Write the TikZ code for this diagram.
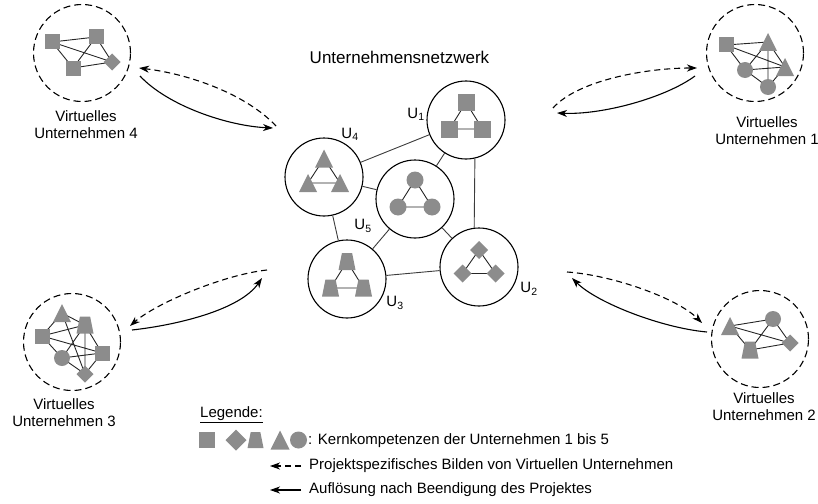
\documentclass[tikz,border=0pt]{standalone}
\usepackage{fontspec}
\setmainfont{Liberation Sans}
\usetikzlibrary{arrows.meta,calc}
\definecolor{shapegray}{RGB}{140,140,140}
\definecolor{netgray}{RGB}{60,60,60}
\tikzset{
  pics/gsq/.style={code={\fill[shapegray] (-#1/2,-#1/2) rectangle (#1/2,#1/2);}},
  pics/gdia/.style={code={\fill[shapegray] (0,-#1/2) -- (#1/2,0) -- (0,#1/2) -- (-#1/2,0) -- cycle;}},
  pics/gtri/.style={code={\fill[shapegray] (0,-#1/2) -- (#1/2,#1/2) -- (-#1/2,#1/2) -- cycle;}},
  pics/gtrap/.style={code={\fill[shapegray] (-0.3*#1,-#1/2) -- (0.3*#1,-#1/2) -- (#1/2,#1/2) -- (-#1/2,#1/2) -- cycle;}},
  pics/gcirc/.style={code={\fill[shapegray] (0,0) circle[radius=#1/2];}},
}
\begin{document}
\begin{tikzpicture}[x=1pt,y=-1pt,
  lbl/.style={font=\fontsize{15}{17}\selectfont, align=center, inner sep=0},
  bigc/.style={circle, draw=black, line width=1.1pt, minimum size=78pt, inner sep=0},
  vuc/.style={circle, draw=black, line width=1.1pt, dash pattern=on 7pt off 4pt, minimum size=97pt, inner sep=0},
  netline/.style={draw=netgray, line width=0.9pt},
  inline/.style={draw=black!85, line width=0.9pt},
  formarrow/.style={line width=1.1pt, dash pattern=on 6pt off 4pt, -{Stealth[length=10pt,width=7pt,inset=3pt]}},
  dissarrow/.style={line width=1.1pt, -{Stealth[length=10pt,width=7pt,inset=3pt]}},
]
\useasboundingbox (0,0) rectangle (818,503);

% ---------- title ----------
\node[lbl, font=\fontsize{17}{20}\selectfont] (title) at (399.5,57) {Unternehmensnetzwerk};

% ---------- central network ----------
\node[bigc] (U1) at (466,120) {};
\node[bigc] (U4) at (324,177) {};
\node[bigc] (U5) at (415,199) {};
\node[bigc] (U3) at (347,279) {};
\node[bigc] (U2) at (479,267) {};
\draw[netline] (U4) -- (U1);
\draw[netline] (U5) -- (U1);
\draw[netline] (U1.-77) -- (U2.97);
\draw[netline] (U4) -- (U5);
\draw[netline] (U4) -- (U3);
\draw[netline] (U5) -- (U3);
\draw[netline] (U5) -- (U2);
\draw[netline] (U3) -- (U2);

% U1 squares
\coordinate (U1a) at ($(U1)+(0,-17.5)$);
\coordinate (U1b) at ($(U1)+(-16.5,9)$);
\coordinate (U1c) at ($(U1)+(16.5,9)$);
\draw[inline] (U1a) -- (U1b) -- (U1c) -- cycle;
\pic at (U1a) {gsq=17}; \pic at (U1b) {gsq=17}; \pic at (U1c) {gsq=17};
% U4 triangles
\coordinate (U4a) at ($(U4)+(0,-18.5)$);
\coordinate (U4b) at ($(U4)+(-16,6)$);
\coordinate (U4c) at ($(U4)+(16,6)$);
\draw[inline] (U4a) -- (U4b) -- (U4c) -- cycle;
\pic at (U4a) {gtri=18}; \pic at (U4b) {gtri=18}; \pic at (U4c) {gtri=18};
% U5 circles
\coordinate (U5a) at ($(U5)+(0,-19)$);
\coordinate (U5b) at ($(U5)+(-17,8)$);
\coordinate (U5c) at ($(U5)+(17,8)$);
\draw[inline] (U5a) -- (U5b) -- (U5c) -- cycle;
\pic at (U5a) {gcirc=17}; \pic at (U5b) {gcirc=17}; \pic at (U5c) {gcirc=17};
% U3 trapezoids
\coordinate (U3a) at ($(U3)+(0,-17.5)$);
\coordinate (U3b) at ($(U3)+(-16.5,9)$);
\coordinate (U3c) at ($(U3)+(16.5,9)$);
\draw[inline] (U3a) -- (U3b) -- (U3c) -- cycle;
\pic at (U3a) {gtrap=17}; \pic at (U3b) {gtrap=17}; \pic at (U3c) {gtrap=17};
% U2 diamonds
\coordinate (U2a) at ($(U2)+(0,-17)$);
\coordinate (U2b) at ($(U2)+(-16.5,6.5)$);
\coordinate (U2c) at ($(U2)+(16.5,6.5)$);
\draw[inline] (U2a) -- (U2b) -- (U2c) -- cycle;
\pic at (U2a) {gdia=18}; \pic at (U2b) {gdia=18}; \pic at (U2c) {gdia=18};

% U labels
\node[lbl] (L1) at (416,114) {U\textsubscript{1}};
\node[lbl] (L4) at (350,134) {U\textsubscript{4}};
\node[lbl] (L5) at (363,226) {U\textsubscript{5}};
\node[lbl] (L3) at (395,303) {U\textsubscript{3}};
\node[lbl] (L2) at (529,289) {U\textsubscript{2}};

% ---------- VU 4 (top left) ----------
\node[vuc] (V4) at (82,53) {};
\coordinate (v4a) at (52,42);
\coordinate (v4b) at (96,37);
\coordinate (v4c) at (73,68);
\coordinate (v4d) at (112,62);
\draw[inline] (v4a) -- (v4b) (v4a) -- (v4c) (v4a) -- (v4d) (v4b) -- (v4c) (v4b) -- (v4d) (v4c) -- (v4d);
\pic at (v4a) {gsq=15}; \pic at (v4b) {gsq=15}; \pic at (v4c) {gsq=15}; \pic at (v4d) {gdia=17};
\node[lbl] (T4) at (86,125) {Virtuelles\\Unternehmen 4};

% ---------- VU 1 (top right) ----------
\node[vuc] (V1) at (755,53) {};
\coordinate (v1a) at (726,45);
\coordinate (v1b) at (768,42);
\coordinate (v1c) at (745,70);
\coordinate (v1d) at (785,67);
\coordinate (v1e) at (768,87);
\draw[inline] (v1a) -- (v1b) (v1a) -- (v1d) (v1a) -- (v1c) (v1b) -- (v1c) (v1b) -- (v1e) (v1b) -- (v1d)
  (v1c) -- (v1d) (v1c) -- (v1e) (v1d) -- (v1e);
\pic at (v1a) {gsq=15}; \pic at (v1b) {gtri=18}; \pic at (v1c) {gcirc=16}; \pic at (v1d) {gtri=18}; \pic at (v1e) {gcirc=16};
\node[lbl] (T1) at (767,131) {Virtuelles\\Unternehmen 1};

% ---------- VU 3 (bottom left) ----------
\node[vuc] (V3) at (72,342) {};
\coordinate (v3t) at (62,313);
\coordinate (v3l) at (42,336);
\coordinate (v3z) at (85,325);
\coordinate (v3r) at (102,353);
\coordinate (v3c) at (62,358);
\coordinate (v3d) at (85,374);
\draw[inline] (v3l) -- (v3t) (v3l) -- (v3z) (v3l) -- (v3r) (v3l) -- (v3c) (v3t) -- (v3z) (v3t) -- (v3d)
  (v3z) -- (v3c) (v3z) -- (v3d) (v3z) -- (v3r) (v3c) -- (v3r) (v3c) -- (v3d) (v3r) -- (v3d);
\pic at (v3t) {gtri=18}; \pic at (v3l) {gsq=15}; \pic at (v3z) {gtrap=17}; \pic at (v3r) {gsq=15};
\pic at (v3c) {gcirc=16}; \pic at (v3d) {gdia=17};
\node[lbl] (T3) at (64,412.5) {Virtuelles\\Unternehmen 3};

% ---------- VU 2 (bottom right) ----------
\node[vuc] (V2) at (760,339) {};
\coordinate (v2t) at (730,326);
\coordinate (v2c) at (773,319);
\coordinate (v2z) at (750,350);
\coordinate (v2d) at (790,343);
\draw[inline] (v2t) -- (v2c) (v2t) -- (v2d) (v2t) -- (v2z) (v2c) -- (v2z) (v2c) -- (v2d) (v2z) -- (v2d);
\pic at (v2t) {gtri=18}; \pic at (v2c) {gcirc=16}; \pic at (v2z) {gtrap=17}; \pic at (v2d) {gdia=17};
\node[lbl] (T2) at (764,406.5) {Virtuelles\\Unternehmen 2};

% ---------- arrows ----------
\coordinate (p4a) at (276,126); \coordinate (p4b) at (139,68);
\draw[formarrow] (p4a) .. controls +(-30,-32) and +(50,6) .. (p4b);
\coordinate (q4a) at (140,76); \coordinate (q4b) at (273,128);
\draw[dissarrow] (q4a) .. controls +(28,30) and +(-45,-2) .. (q4b);

\coordinate (p1a) at (553,108); \coordinate (p1b) at (697,68);
\draw[formarrow] (p1a) .. controls +(25,-28) and +(-50,0) .. (p1b);
\coordinate (q1a) at (695,76); \coordinate (q1b) at (557,113);
\draw[dissarrow] (q1a) .. controls +(-30,22) and +(45,2) .. (q1b);

\coordinate (p3a) at (267,270); \coordinate (p3b) at (130,326);
\draw[formarrow] (p3a) .. controls +(-45,5) and +(25,-22) .. (p3b);
\coordinate (q3a) at (132,330); \coordinate (q3b) at (262,278);
\draw[dissarrow] (q3a) .. controls +(45,-5) and +(-22,32) .. (q3b);

\coordinate (p2a) at (567,272); \coordinate (p2b) at (702,323);
\draw[formarrow] (p2a) .. controls +(45,3) and +(-25,-25) .. (p2b);
\coordinate (q2a) at (707,332); \coordinate (q2b) at (572,278);
\draw[dissarrow] (q2a) .. controls +(-45,-4) and +(25,25) .. (q2b);

% ---------- legend ----------
\node[lbl, anchor=west] (leg) at (200,415) {\underline{Legende:}};
\pic at (207,440) {gsq=16};
\pic at (236,440) {gdia=21};
\pic at (255.5,440) {gtrap=16};
\pic at (280,440) {gtri=19};
\pic at (298.5,440) {gcirc=17};
\node[lbl, anchor=west] (legk) at (308,441) {: Kernkompetenzen der Unternehmen 1 bis 5};
\coordinate (la1) at (301,466); \coordinate (la2) at (270,466);
\draw[formarrow] (la1) -- (la2);
\node[lbl, anchor=west] (legp) at (309,466) {Projektspezifisches Bilden von Virtuellen Unternehmen};
\coordinate (lb1) at (301,490); \coordinate (lb2) at (270,490);
\draw[dissarrow] (lb1) -- (lb2);
\node[lbl, anchor=west] (lega) at (309,490) {Auflösung nach Beendigung des Projektes};
\end{tikzpicture}
\end{document}
